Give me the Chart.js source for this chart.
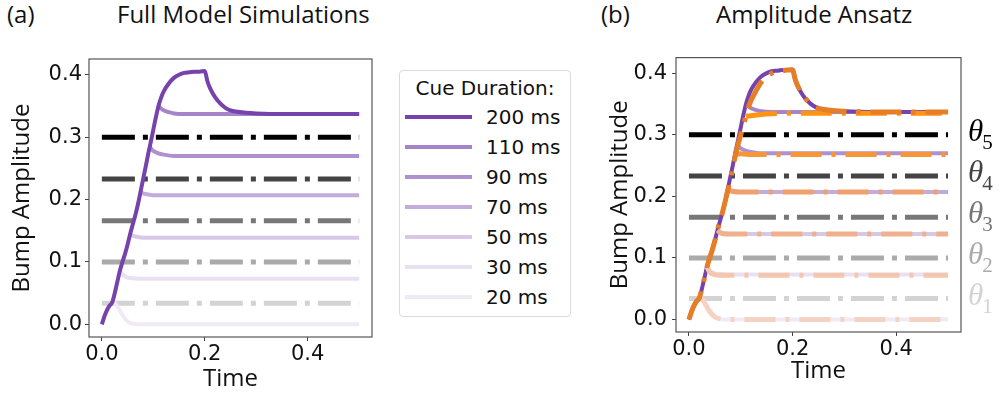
<!DOCTYPE html>
<html>
<head>
<meta charset="utf-8">
<script src="https://cdn.jsdelivr.net/npm/chart.js@4.4.0/dist/chart.umd.min.js"></script>
<style>
  body { margin: 0; background: #fff; }
  #page { position: relative; width: 1001px; height: 396px; overflow: hidden; font-family: "Open Sans", sans-serif; color: #111; }
  .lbl { position: absolute; font-size: 24px; line-height: 28px; white-space: nowrap; }
  .box { position: absolute; }
  #legend { position: absolute; left: 399px; top: 70px; width: 170px; height: 245px; border: 1px solid #dadada; border-radius: 4px; font-family: "DejaVu Sans", sans-serif; font-size: 20px; }
  #legend .ttl { position: absolute; left: 0; right: 0; top: 5px; text-align: center; }
  #legend .row { position: absolute; left: 0; height: 24px; }
  #legend .sw { position: absolute; left: 5px; top: 10px; width: 67px; height: 4px; }
  #legend .tx { position: absolute; left: 86px; top: 0; line-height: 24px; white-space: nowrap; }
</style>
</head>
<body>
<div id="page">
  <div class="lbl" style="left:7px;top:0px">(a)</div>
  <div class="lbl" style="left:117px;top:0px">Full Model Simulations</div>
  <div class="lbl" style="left:601px;top:0px">(b)</div>
  <div class="lbl" style="left:716px;top:0px">Amplitude Ansatz</div>
  <div class="box" style="left:0;top:40px;width:380px;height:356px"><canvas id="full" width="380" height="356"></canvas></div>
  <div id="legend"><div class="ttl">Cue Duration:</div></div>
  <div class="box" style="left:580px;top:40px;width:421px;height:356px"><canvas id="ansatz" width="421" height="356"></canvas></div>
</div>
<script>
// cue durations, darkest first
const cueLabels = ["200 ms", "110 ms", "90 ms", "70 ms", "50 ms", "30 ms", "20 ms"]
const purple = ["#7642ac", "#a684c9", "#b091cf", "#c3acdb", "#d7c8e7", "#e9e1f2", "#efeaf5"]
const orange = ["#e67e28", "#ff9312", "#f79638", "#efa06c", "#f0b08c", "#f4c6b0", "#f5d3c3"]

// thresholds theta_1..theta_5
const thresholds = [0.034, 0.1, 0.166, 0.233, 0.3]
const thresholdColors = ["#d3d3d3", "#aaaaaa", "#777777", "#444444", "#000000"]
const thetaSubs = ["1", "2", "3", "4", "5"]

const xTicks = [0, 0.2, 0.4]
const yTicks = [0, 0.1, 0.2, 0.3, 0.4]

// full model: 200 ms cue
const t200 = [0, 0.005, 0.01, 0.015, 0.02, 0.025, 0.03, 0.035, 0.04, 0.045, 0.05, 0.055, 0.06, 0.065, 0.07, 0.075, 0.08, 0.085, 0.09, 0.095, 0.1, 0.105, 0.11, 0.115, 0.12, 0.13, 0.14, 0.15, 0.16, 0.17, 0.18, 0.19, 0.2, 0.205, 0.21, 0.22, 0.23, 0.24, 0.25, 0.26, 0.28, 0.3, 0.35, 0.5]
const a200 = [0, 0.013, 0.023, 0.03, 0.035, 0.05, 0.068, 0.086, 0.1, 0.113, 0.128, 0.145, 0.16, 0.175, 0.192, 0.212, 0.232, 0.252, 0.273, 0.292, 0.312, 0.332, 0.35, 0.363, 0.373, 0.386, 0.395, 0.4, 0.403, 0.404, 0.405, 0.405, 0.406, 0.39, 0.379, 0.364, 0.354, 0.347, 0.343, 0.341, 0.339, 0.338, 0.337, 0.337]
// shorter cues, from the end of the cue on
const t110 = [0.11, 0.115, 0.12, 0.13, 0.14, 0.16, 0.2, 0.5]
const a110 = [0.35, 0.346, 0.343, 0.34, 0.338, 0.337, 0.337, 0.337]
const t90 = [0.093, 0.1, 0.11, 0.12, 0.14, 0.5]
const a90 = [0.284, 0.278, 0.274, 0.272, 0.27, 0.27]
const t70 = [0.075, 0.08, 0.09, 0.1, 0.12, 0.5]
const a70 = [0.212, 0.21, 0.208, 0.207, 0.207, 0.207]
const t50 = [0.055, 0.06, 0.07, 0.08, 0.1, 0.5]
const a50 = [0.145, 0.142, 0.14, 0.139, 0.139, 0.139]
const t30 = [0.035, 0.04, 0.045, 0.05, 0.06, 0.08, 0.5]
const a30 = [0.086, 0.08, 0.077, 0.075, 0.074, 0.073, 0.073]
const t20 = [0.02, 0.025, 0.03, 0.035, 0.04, 0.045, 0.05, 0.06, 0.08, 0.5]
const a20 = [0.035, 0.034, 0.029, 0.022, 0.015, 0.009, 0.005, 0.001, 0, 0]

// amplitude ansatz
const s200 = [0, 0.005, 0.01, 0.015, 0.02, 0.025, 0.03, 0.035, 0.04, 0.045, 0.05, 0.055, 0.06, 0.065, 0.07, 0.075, 0.08, 0.085, 0.09, 0.095, 0.1, 0.105, 0.11, 0.115, 0.12, 0.13, 0.14, 0.15, 0.16, 0.17, 0.18, 0.19, 0.2, 0.205, 0.21, 0.22, 0.23, 0.24, 0.25, 0.26, 0.28, 0.3, 0.35, 0.5]
const b200 = [0, 0.013, 0.023, 0.03, 0.035, 0.05, 0.068, 0.086, 0.1, 0.113, 0.128, 0.145, 0.16, 0.175, 0.192, 0.21, 0.228, 0.248, 0.268, 0.285, 0.3, 0.315, 0.33, 0.345, 0.356, 0.372, 0.386, 0.395, 0.4, 0.403, 0.404, 0.405, 0.405, 0.39, 0.379, 0.364, 0.354, 0.347, 0.343, 0.341, 0.339, 0.338, 0.337, 0.337]
const s110 = [0.11, 0.12, 0.14, 0.16, 0.2, 0.5]
const b110 = [0.33, 0.331, 0.333, 0.334, 0.335, 0.335]
const s90 = [0.09, 0.1, 0.12, 0.5]
const b90 = [0.268, 0.269, 0.268, 0.268]
const s70 = [0.075, 0.085, 0.1, 0.5]
const b70 = [0.21, 0.208, 0.207, 0.207]
const s50 = [0.055, 0.06, 0.07, 0.5]
const b50 = [0.145, 0.141, 0.139, 0.139]
const s30 = [0.035, 0.04, 0.05, 0.06, 0.5]
const b30 = [0.085, 0.077, 0.073, 0.072, 0.072]
const s20 = [0.02, 0.025, 0.03, 0.035, 0.04, 0.05, 0.06, 0.08, 0.5]
const b20 = [0.035, 0.033, 0.027, 0.02, 0.013, 0.004, 0.001, 0, 0]

const fullT = [t200, t110, t90, t70, t50, t30, t20]
const fullA = [a200, a110, a90, a70, a50, a30, a20]
const ansT = [s200, s110, s90, s70, s50, s30, s20]
const ansA = [b200, b110, b90, b70, b50, b30, b20]

const pts = (ts, vs) => ts.map((t, i) => ({ x: t, y: vs[i] }))

// legend
const legend = document.getElementById("legend")
cueLabels.forEach((name, i) => {
  const row = document.createElement("div")
  row.className = "row"
  row.style.top = (34 + i * 30) + "px"
  row.style.width = "100%"
  row.innerHTML = '<div class="sw" style="background:' + purple[i] + '"></div><div class="tx">' + name + "</div>"
  legend.appendChild(row)
})

const thresholdSets = (order) =>
  thresholds.map((v, i) => ({
    data: [{ x: 0, y: v }, { x: 0.5, y: v }],
    borderColor: thresholdColors[i],
    borderWidth: 5,
    borderDash: [33, 8, 5, 8],
    borderCapStyle: "butt",
    pointRadius: 0,
    order: order,
  }))

const purpleSets = (base) =>
  fullT.map((ts, i) => ({
    data: pts(ts, fullA[i]),
    borderColor: purple[i],
    borderWidth: 4,
    pointRadius: 0,
    cubicInterpolationMode: "monotone",
    order: base + i,
  }))

const orangeSets = (base) =>
  ansT.map((ts, i) => ({
    data: pts(ts, ansA[i]),
    borderColor: orange[i],
    borderWidth: 5,
    borderDash: [31, 10, 4, 10],
    borderCapStyle: "butt",
    pointRadius: 0,
    cubicInterpolationMode: "monotone",
    order: base + i,
  }))

const frame = {
  id: "frame",
  afterDraw(chart) {
    const { ctx, chartArea: a } = chart
    ctx.save()
    ctx.strokeStyle = "#555"
    ctx.lineWidth = 1.2
    ctx.strokeRect(a.left, a.top, a.right - a.left, a.bottom - a.top)
    ctx.restore()
  },
}

const thetaLabels = {
  id: "thetaLabels",
  afterDraw(chart) {
    const { ctx, chartArea, scales } = chart
    ctx.save()
    thresholds.forEach((v, i) => {
      const py = scales.y.getPixelForValue(v)
      const px = chartArea.right + 7
      ctx.fillStyle = thresholdColors[i]
      ctx.textBaseline = "alphabetic"
      ctx.font = 'italic 31px "Liberation Serif"'
      ctx.fillText("θ", px, py + 6)
      const w = ctx.measureText("θ").width
      ctx.font = '21px "Liberation Serif"'
      ctx.fillText(thetaSubs[i], px + w - 1, py + 14)
    })
    ctx.restore()
  },
}

function makeOptions(yWidth, xHeight, pad, yTitlePad, xTitlePad, yTickPad) {
  return {
    responsive: false,
    animation: false,
    devicePixelRatio: 1,
    layout: { padding: pad },
    plugins: { legend: { display: false }, tooltip: { enabled: false } },
    scales: {
      x: {
        type: "linear",
        min: -0.025,
        max: 0.525,
        afterBuildTicks: (s) => { s.ticks = xTicks.map((v) => ({ value: v })) },
        afterFit: (s) => { s.height = xHeight },
        ticks: { callback: (v) => v.toFixed(1), color: "#111", padding: 1, maxRotation: 0, font: { family: "DejaVu Sans", size: 21 } },
        grid: { drawOnChartArea: false, drawTicks: true, tickLength: 4, color: "#444" },
        border: { display: false },
        title: { display: true, text: "Time", color: "#111", padding: { top: 0, bottom: xTitlePad }, font: { family: "Open Sans", size: 24 } },
      },
      y: {
        min: -0.02025,
        max: 0.42525,
        afterBuildTicks: (s) => { s.ticks = yTicks.map((v) => ({ value: v })) },
        afterFit: (s) => { s.width = yWidth },
        ticks: { callback: (v) => v.toFixed(1), color: "#111", padding: yTickPad, font: { family: "DejaVu Sans", size: 21 } },
        grid: { drawOnChartArea: false, drawTicks: true, tickLength: 4, color: "#444" },
        border: { display: false },
        title: { display: true, text: "Bump Amplitude", color: "#111", padding: { top: yTitlePad, bottom: 0 }, font: { family: "Open Sans", size: 24 } },
      },
    },
  }
}

// lower order is drawn on top
new Chart(document.getElementById("full"), {
  type: "line",
  data: { datasets: [...purpleSets(0), ...thresholdSets(20)] },
  options: makeOptions(89, 59, { top: 19, right: 8, left: 0, bottom: 0 }, 8, 2, 3),
  plugins: [frame],
})

new Chart(document.getElementById("ansatz"), {
  type: "line",
  data: { datasets: [...orangeSets(0), ...purpleSets(10), ...thresholdSets(20)] },
  options: makeOptions(96, 64, { top: 14, right: 40, left: 0, bottom: 0 }, 26, 10, 5),
  plugins: [frame, thetaLabels],
})
</script>
</body>
</html>
